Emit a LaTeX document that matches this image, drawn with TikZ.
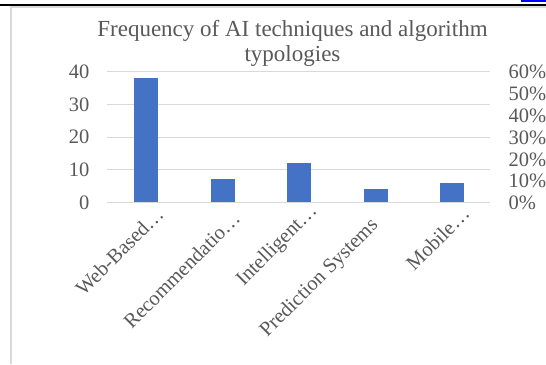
\documentclass[tikz,border=0pt]{standalone}
\usepackage{fontspec}
\setmainfont{Liberation Serif}
\definecolor{barblue}{HTML}{4472C4}
\definecolor{gridgray}{HTML}{D9D9D9}
\definecolor{txtgray}{HTML}{595959}
\definecolor{linkblue}{HTML}{0000FF}
\tikzset{
  axlabel/.style={text=txtgray,font=\fontsize{20.5}{24}\selectfont,inner sep=0pt},
  catlabel/.style={axlabel,rotate=45,anchor=base east},
  gridline/.style={draw=gridgray,line width=1pt},
  bar/.style={fill=barblue,draw=none}
}
\begin{document}
\begin{tikzpicture}[x=1pt,y=-1pt]
\useasboundingbox (0,0) rectangle (546,364);
\fill[white] (0,0) rectangle (546,364);
% frame
\fill[linkblue] (521,0) rectangle (546,1.7);
\fill[black] (0,4) rectangle (546,6);
\fill[gridgray] (10,6) rectangle (12,364);
\fill[gridgray] (12,6) rectangle (546,7.5);
% title
\node[text=txtgray,font=\fontsize{23}{25}\selectfont,align=center,inner sep=0pt,anchor=base] (title) at (292.5,61.7) {Frequency of AI techniques and algorithm\\typologies};
% gridlines
\foreach \k in {0,...,4}{
  \draw[gridline] (107,{202.7-32.8*\k}) -- (490,{202.7-32.8*\k});
  \pgfmathtruncatemacro{\v}{10*\k}
  \node[axlabel,anchor=east] (l\k) at (89.5,{202.7-32.8*\k}) {\v};
}
% right axis labels
\foreach \k in {0,...,6}{
  \pgfmathtruncatemacro{\v}{10*\k}
  \node[axlabel,anchor=west] (r\k) at (508.5,{203-21.8*\k}) {\v\%};
}
% bars
\foreach \c/\val in {146/38,222.5/7,299/12,376/4,452/6}{
  \fill[bar] ({\c-12},202.2) rectangle ({\c+12},{202.2-3.28*\val});
}
% category labels
\node[catlabel] (c1) at (165,215.5) {Web-Based…};
\node[catlabel] (c2) at (241.5,220) {Recommendatio…};
\node[catlabel] (c3) at (318,212) {Intelligent…};
\node[catlabel] (c4) at (379,226) {Prediction Systems};
\node[catlabel] (c5) at (471,215) {Mobile…};
\end{tikzpicture}
\end{document}
